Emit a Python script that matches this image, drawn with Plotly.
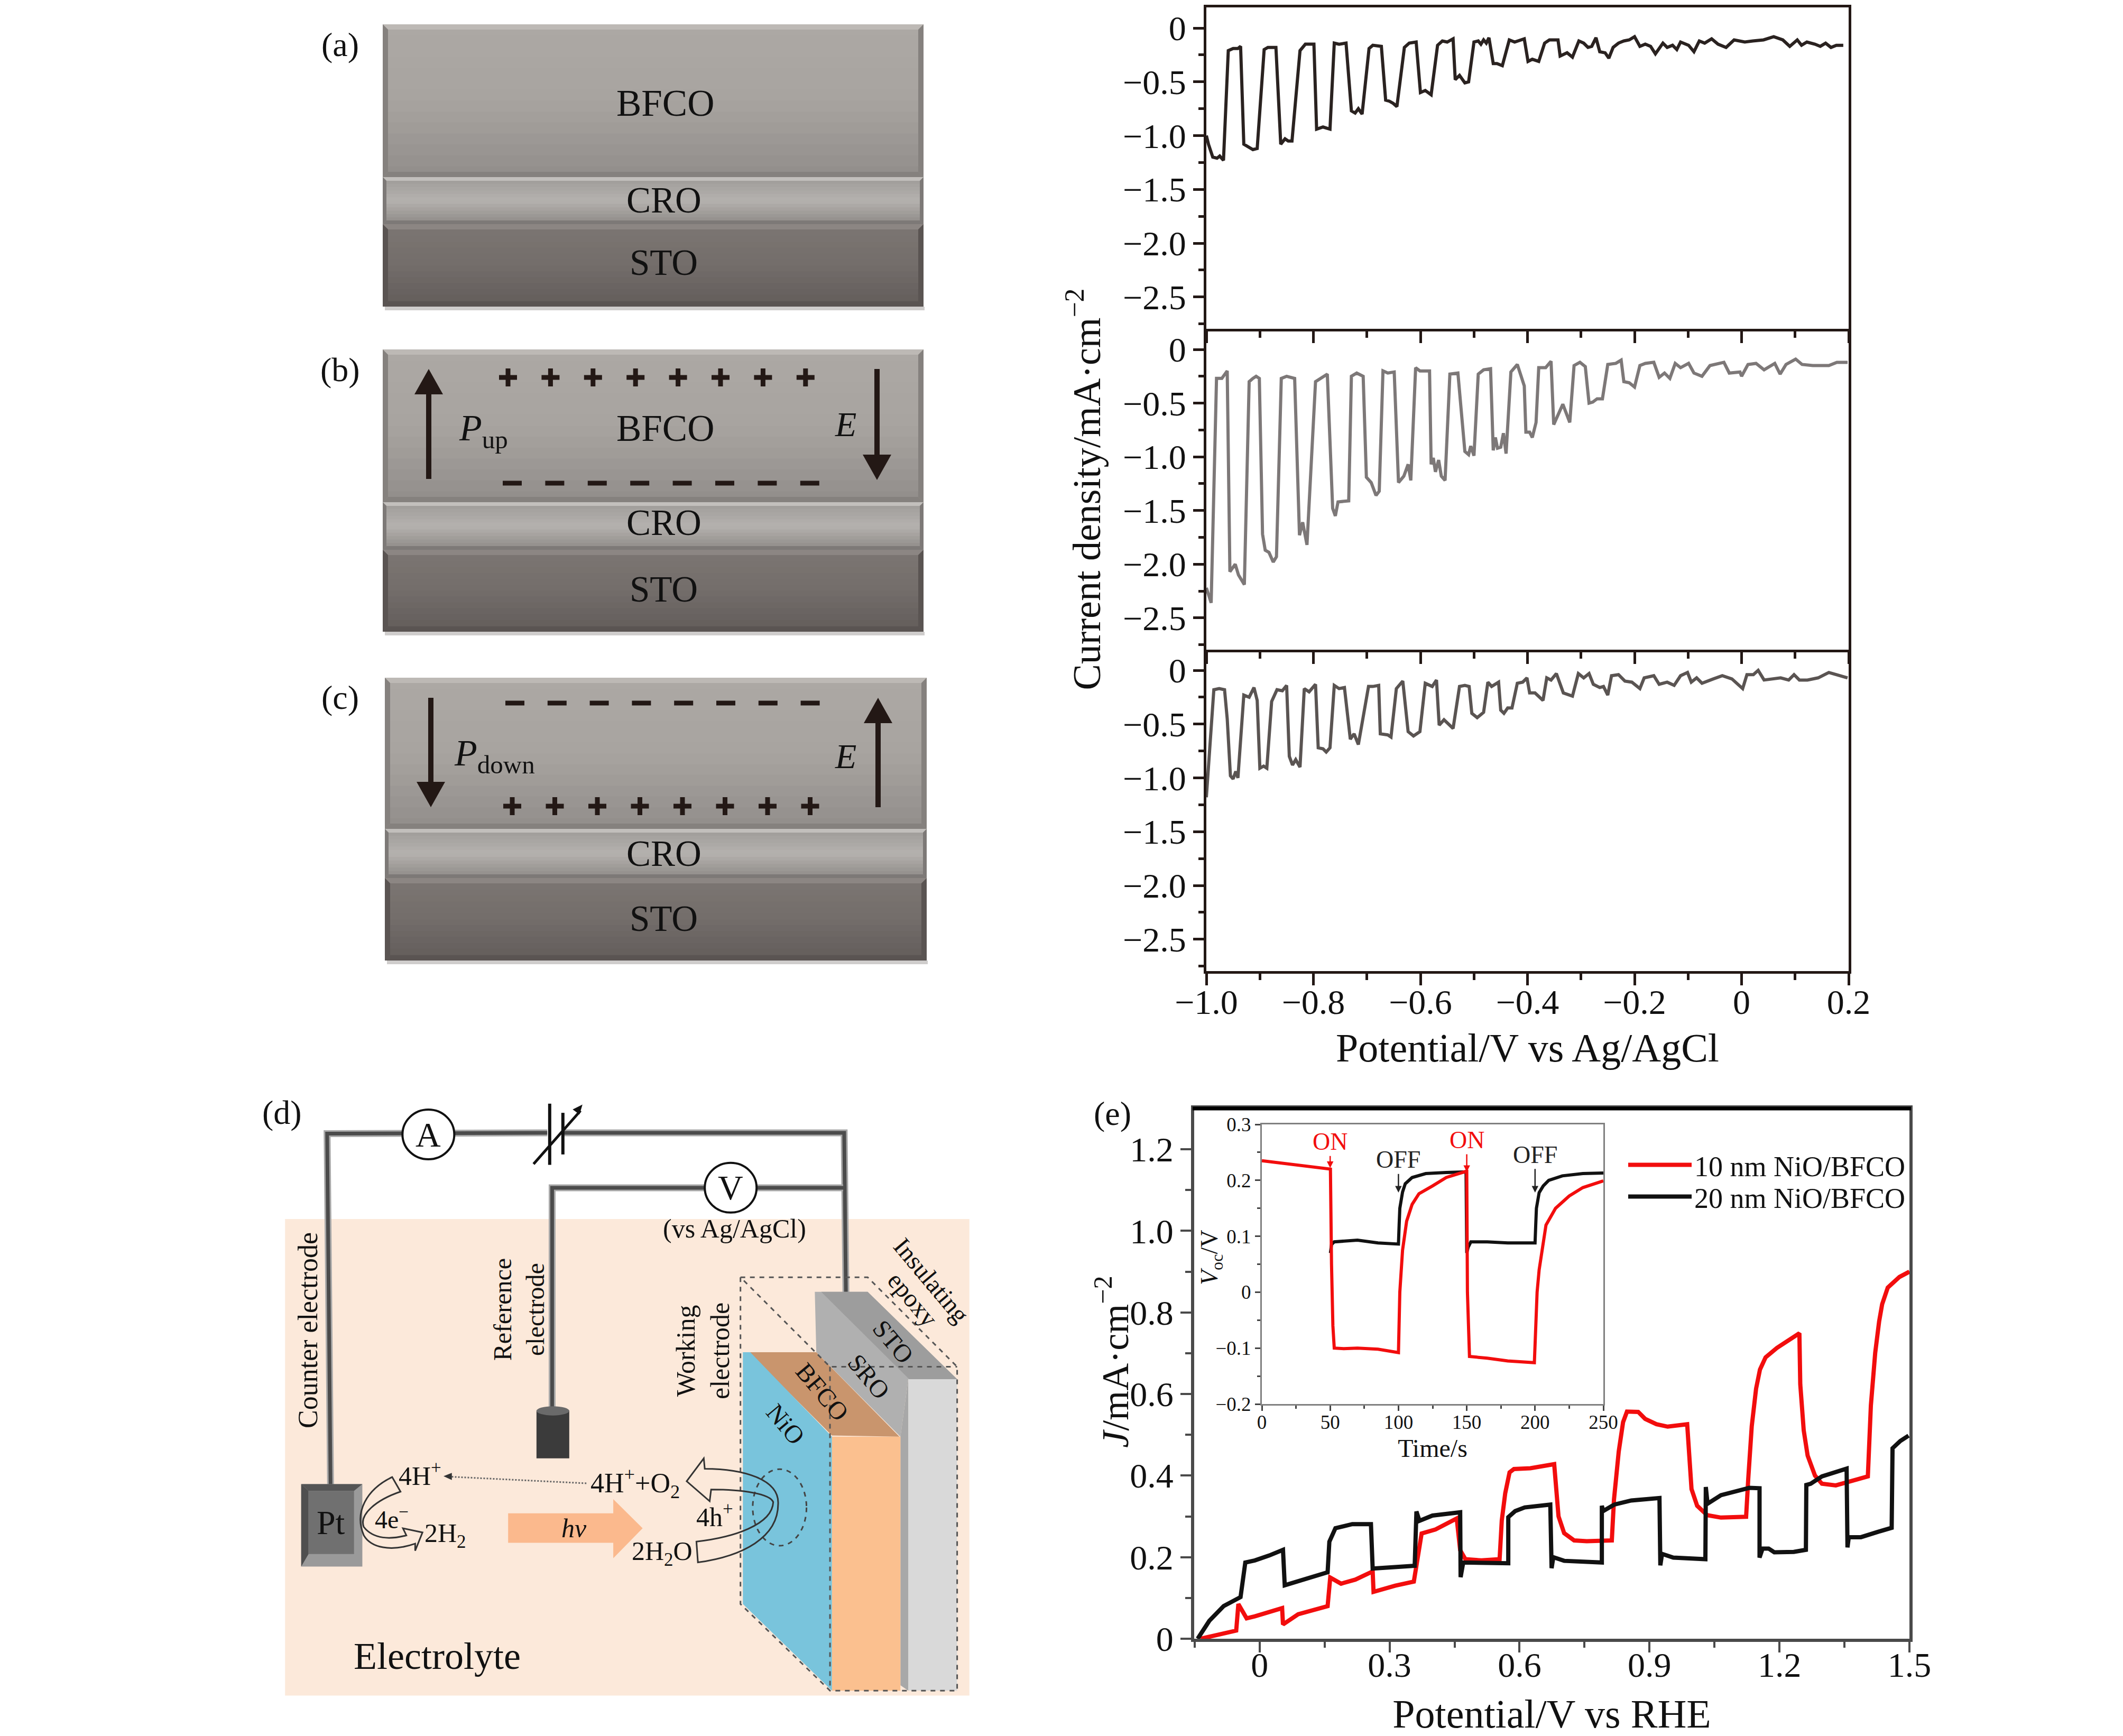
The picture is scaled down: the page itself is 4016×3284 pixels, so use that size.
import plotly.graph_objects as go

W, H = 4016, 3284
K = W / 1567.0

# ---------- data ----------
p1_v = [-1.000,-.996,-.988,-.980,-.975,-.968,-.959,-.950,-.941,-.936,-.930,-.922,-.913,-.905,-.892,-.885,-.870,-.861,-.853,-.847,-.840,-.825,-.815,-.799,-.794,-.782,-.769,-.761,-.752,-.739,-.729,-.722,-.716,-.709,-.696,-.689,-.673,-.665,-.658,-.651,-.644,-.630,-.621,-.608,-.600,-.591,-.580,-.568,-.559,-.550,-.539,-.535,-.527,-.517,-.510,-.500,-.492,-.487,-.482,-.477,-.472,-.464,-.457,-.447,-.434,-.424,-.406,-.399,-.391,-.379,-.368,-.359,-.343,-.339,-.326,-.316,-.304,-.295,-.287,-.280,-.272,-.265,-.255,-.248,-.240,-.230,-.220,-.210,-.200,-.190,-.180,-.170,-.161,-.147,-.139,-.129,-.121,-.114,-.099,-.089,-.079,-.069,-.056,-.044,-.029,-.014,.006,.021,.041,.060,.077,.090,.104,.112,.122,.137,.147,.157,.167,.177,.190]
p1_j = [-1.00,-1.08,-1.20,-1.21,-1.19,-1.23,-.21,-.19,-.19,-.17,-1.08,-1.10,-1.13,-1.12,-.20,-.18,-.18,-1.08,-1.03,-1.05,-1.05,-.21,-.15,-.15,-.94,-.92,-.94,-.14,-.15,-.14,-.77,-.79,-.75,-.80,-.19,-.16,-.17,-.67,-.68,-.70,-.73,-.18,-.14,-.13,-.60,-.58,-.62,-.16,-.12,-.13,-.10,-.48,-.44,-.51,-.50,-.13,-.12,-.15,-.11,-.14,-.09,-.33,-.33,-.35,-.11,-.13,-.10,-.31,-.29,-.31,-.14,-.11,-.11,-.26,-.23,-.27,-.12,-.14,-.18,-.17,-.09,-.22,-.23,-.28,-.18,-.14,-.12,-.11,-.08,-.17,-.15,-.17,-.24,-.14,-.18,-.16,-.20,-.13,-.16,-.22,-.12,-.14,-.10,-.15,-.18,-.11,-.13,-.12,-.11,-.08,-.11,-.17,-.11,-.16,-.13,-.15,-.17,-.14,-.18,-.16,-.16]

p2_v = [-1.000,-.991,-.981,-.971,-.961,-.956,-.946,-.940,-.929,-.920,-.913,-.907,-.901,-.895,-.890,-.883,-.875,-.869,-.860,-.850,-.835,-.826,-.820,-.812,-.796,-.787,-.774,-.764,-.759,-.754,-.734,-.729,-.719,-.707,-.701,-.692,-.683,-.677,-.670,-.661,-.649,-.641,-.631,-.623,-.618,-.609,-.601,-.583,-.580,-.576,-.572,-.566,-.561,-.554,-.545,-.530,-.520,-.517,-.510,-.506,-.500,-.492,-.482,-.469,-.464,-.460,-.456,-.450,-.445,-.440,-.431,-.419,-.406,-.403,-.396,-.391,-.384,-.379,-.366,-.356,-.351,-.334,-.321,-.313,-.302,-.292,-.285,-.278,-.270,-.260,-.250,-.235,-.225,-.220,-.210,-.200,-.190,-.180,-.164,-.154,-.144,-.134,-.124,-.114,-.099,-.089,-.074,-.059,-.033,-.023,-.003,0,.012,.027,.042,.062,.072,.083,.101,.113,.133,.163,.178,.198]
p2_j = [-2.22,-2.36,-.27,-.27,-.20,-2.07,-2.00,-2.10,-2.19,-.30,-.27,-.25,-.27,-1.72,-1.87,-1.89,-1.98,-1.93,-.27,-.25,-.27,-1.73,-1.61,-1.82,-.30,-.27,-.23,-1.48,-1.55,-1.42,-1.41,-.25,-.22,-.25,-1.19,-1.24,-1.36,-1.32,-.20,-.22,-.21,-1.24,-1.18,-1.07,-1.22,-.17,-.20,-.20,-1.07,-1.01,-1.14,-1.03,-1.18,-1.22,-.23,-.22,-.75,-.95,-.98,-.90,-.99,-.23,-.19,-.18,-.94,-.82,-.92,-.91,-.78,-.97,-.21,-.14,-.34,-.77,-.77,-.82,-.68,-.17,-.17,-.11,-.70,-.51,-.68,-.15,-.12,-.16,-.50,-.49,-.46,-.46,-.14,-.13,-.10,-.30,-.31,-.35,-.15,-.13,-.12,-.26,-.22,-.27,-.13,-.17,-.13,-.22,-.25,-.15,-.12,-.22,-.21,-.25,-.14,-.13,-.19,-.13,-.23,-.14,-.09,-.14,-.15,-.15,-.12,-.12]

p3_v = [-1.000,-.993,-.986,-.976,-.966,-.961,-.955,-.950,-.945,-.941,-.930,-.920,-.911,-.905,-.900,-.893,-.887,-.878,-.868,-.858,-.850,-.845,-.839,-.833,-.825,-.817,-.808,-.796,-.791,-.782,-.776,-.769,-.761,-.752,-.742,-.731,-.724,-.716,-.697,-.689,-.678,-.675,-.661,-.655,-.645,-.633,-.623,-.613,-.601,-.591,-.578,-.570,-.565,-.556,-.547,-.539,-.527,-.517,-.509,-.504,-.494,-.482,-.474,-.467,-.454,-.450,-.444,-.437,-.429,-.419,-.409,-.401,-.396,-.386,-.371,-.364,-.356,-.346,-.333,-.316,-.305,-.295,-.285,-.277,-.265,-.258,-.250,-.243,-.230,-.218,-.205,-.190,-.182,-.164,-.154,-.139,-.126,-.114,-.101,-.094,-.084,-.074,-.053,-.036,-.018,.002,.010,.022,.031,.042,.073,.088,.098,.108,.123,.143,.163,.183,.198]
p3_j = [-1.18,-.72,-.18,-.17,-.18,-.45,-.98,-1.01,-.94,-1.00,-.23,-.25,-.16,-.28,-.91,-.89,-.91,-.29,-.18,-.19,-.14,-.80,-.88,-.83,-.90,-.17,-.20,-.13,-.72,-.73,-.76,-.72,-.14,-.17,-.16,-.64,-.59,-.69,-.15,-.15,-.14,-.59,-.60,-.62,-.17,-.10,-.57,-.61,-.57,-.12,-.15,-.09,-.51,-.46,-.50,-.54,-.15,-.14,-.15,-.40,-.44,-.39,-.11,-.15,-.11,-.37,-.40,-.35,-.35,-.12,-.11,-.07,-.21,-.21,-.28,-.07,-.09,-.03,-.21,-.24,-.03,-.07,-.03,-.13,-.16,-.15,-.23,-.05,-.04,-.10,-.11,-.17,-.07,-.05,-.13,-.11,-.14,-.05,-.02,-.11,-.07,-.12,-.08,-.05,-.08,-.17,-.04,-.04,0,-.09,-.07,-.09,-.04,-.09,-.09,-.07,-.02,-.05,-.07]

e_red_v = [-.136,-.097,-.054,-.049,-.030,-.011,.022,.052,.054,.089,.157,.163,.188,.221,.261,.263,.313,.356,.374,.406,.455,.463,.475,.512,.554,.559,.567,.577,.587,.625,.680,.684,.690,.703,.726,.755,.813,.818,.829,.839,.848,.874,.890,.916,.942,.987,.991,.997,1.010,1.033,1.065,1.123,1.128,1.136,1.146,1.155,1.168,1.194,1.246,1.248,1.256,1.265,1.282,1.298,1.330,1.362,1.404,1.411,1.421,1.430,1.437,1.450,1.477,1.500]
e_red_j = [0,.01,.02,.085,.05,.055,.065,.075,.035,.06,.08,.15,.135,.145,.165,.115,.13,.14,.258,.268,.295,.217,.195,.192,.195,.29,.357,.408,.416,.418,.428,.367,.30,.259,.241,.239,.241,.341,.459,.531,.557,.556,.539,.526,.52,.526,.444,.367,.326,.303,.297,.299,.393,.521,.613,.66,.69,.713,.749,.624,.511,.449,.40,.38,.376,.385,.398,.572,.701,.7775,.82,.861,.887,.90]
e_blk_v = [-.143,-.116,-.083,-.044,-.033,-.011,.022,.054,.058,.089,.157,.161,.175,.214,.257,.261,.313,.358,.362,.369,.399,.463,.464,.470,.574,.574,.590,.612,.671,.674,.678,.703,.790,.790,.793,.819,.858,.923,.925,.929,.955,1.029,1.030,1.034,1.065,1.130,1.154,1.154,1.161,1.175,1.188,1.233,1.261,1.262,1.272,1.298,1.355,1.357,1.360,1.388,1.427,1.459,1.461,1.479,1.498]
e_blk_j = [0,.044,.08,.102,.187,.192,.204,.218,.131,.141,.163,.238,.271,.281,.281,.172,.175,.179,.312,.289,.302,.31,.151,.187,.185,.298,.313,.322,.329,.173,.20,.191,.187,.326,.313,.329,.339,.345,.18,.208,.199,.195,.372,.331,.352,.37,.369,.199,.221,.221,.212,.213,.218,.377,.38,.398,.417,.224,.249,.249,.262,.272,.467,.485,.498]

in_red_t = [0,25,50,50.2,51,52,53,60,70,85,100,100.5,101,103,106,110,115,125,135,149.5,150,150.5,152,165,180,199.5,200.5,201.5,203,205,208,215,225,235,250]
in_red_v = [.235,.228,.221,.22,.05,-.06,-.10,-.101,-.10,-.102,-.108,-.05,0,.075,.127,.157,.176,.19,.205,.216,.216,0,-.115,-.118,-.123,-.126,-.05,0,.04,.07,.12,.15,.172,.187,.199]
in_blk_t = [50.2,51,53,70,85,100,100.5,101,103,105,110,120,135,149.5,150,151,153,165,180,200,200.5,201,203,206,210,220,235,250]
in_blk_v = [.07,.085,.09,.093,.088,.086,.12,.15,.179,.194,.205,.212,.214,.215,.07,.08,.09,.09,.088,.088,.12,.15,.178,.19,.20,.208,.212,.213]

y_vals = [0,-.5,-1,-1.5,-2,-2.5]
y_text = ["0","−0.5","−1.0","−1.5","−2.0","−2.5"]
y_minor = [-.25,-.75,-1.25,-1.75,-2.25,-2.75]
x_vals = [-1,-.8,-.6,-.4,-.2,0,.2]
x_text = ["−1.0","−0.8","−0.6","−0.4","−0.2","0","0.2"]
x_minor = [-.9,-.7,-.5,-.3,-.1,.1]
e_x_vals = [0,.3,.6,.9,1.2,1.5]
e_x_text = ["0","0.3","0.6","0.9","1.2","1.5"]
e_x_minor = [-.15,.15,.45,.75,1.05,1.35]
e_y_vals = [0,.2,.4,.6,.8,1.0,1.2]
e_y_text = ["0","0.2","0.4","0.6","0.8","1.0","1.2"]
e_y_minor = [.1,.3,.5,.7,.9,1.1]
in_x_vals = [0,50,100,150,200,250]
in_x_minor = [25,75,125,175,225]
in_y_vals = [-.2,-.1,0,.1,.2,.3]
in_y_text = ["−0.2","−0.1","0","0.1","0.2","0.3"]
in_y_minor = [-.15,-.05,.05,.15,.25]

FONT = "Liberation Serif"
INK = "#231815"

def X(v): return v / W
def Y(v): return 1 - v / H
def ptx(x): return x * K
def pty(y): return y * K

shapes, anns = [], []

def rect(x0, y0, x1, y1, fill, line=None, lw=0):
    shapes.append(dict(type="rect", xref="paper", yref="paper", x0=X(x0), x1=X(x1), y0=Y(y0), y1=Y(y1),
                       fillcolor=fill, line=dict(color=line or fill, width=lw)))

def poly(pts, fill=None, line=None, lw=0, dash=None, close=True):
    d = "M" + " L".join(f"{X(a):.5f},{Y(b):.5f}" for a, b in pts) + (" Z" if close else "")
    ln = dict(color=line or "rgba(0,0,0,0)", width=lw)
    if dash: ln["dash"] = dash
    shapes.append(dict(type="path", xref="paper", yref="paper", path=d, fillcolor=fill or "rgba(0,0,0,0)", line=ln))

def text(x, y, s, size=44, color="#111111", angle=0):
    anns.append(dict(xref="paper", yref="paper", x=X(x), y=Y(y), text=s, showarrow=False, xanchor="center",
                     yanchor="middle", textangle=angle, font=dict(family=FONT, size=size, color=color)))

def mix(stops, t):
    n = len(stops) - 1
    i = min(int(t * n), n - 1)
    f = t * n - i
    a, b = stops[i], stops[i + 1]
    ca = [int(a[j:j + 2], 16) for j in (1, 3, 5)]
    cb = [int(b[j:j + 2], 16) for j in (1, 3, 5)]
    return "#%02x%02x%02x" % tuple(round(p + (q - p) * f) for p, q in zip(ca, cb))

def layer(x0, y0, x1, y1, stops, top, bot, n=14, bev=10):
    for i in range(n):
        a = y0 + (y1 - y0) * i / n
        b = y0 + (y1 - y0) * (i + 1) / n + 1
        rect(x0, a, x1, min(b, y1), mix(stops, (i + .5) / n))
    poly([(x0, y0), (x1, y0), (x1 - bev, y0 + bev), (x0 + bev, y0 + bev)], fill=top)
    poly([(x0, y1), (x1, y1), (x1 - bev, y1 - bev), (x0 + bev, y1 - bev)], fill=bot)
    poly([(x0, y0), (x0 + bev, y0 + bev), (x0 + bev, y1 - bev), (x0, y1)], fill=bot)
    poly([(x1, y0), (x1 - bev, y0 + bev), (x1 - bev, y1 - bev), (x1, y1)], fill=bot)

def stack(x0, x1, y0, y1, y2, y3):
    rect(x0 + 4, y3, x1 + 2, y3 + 7, "#cfcdcc")
    layer(x0, y0, x1, y1, ["#aca8a4", "#a8a4a0", "#918d8a"], "#bdb9b5", "#85817e")
    layer(x0, y1, x1, y2, ["#9d9a97", "#b5b2af", "#8d8986"], "#c2bfbc", "#7d7977", bev=7)
    layer(x0, y2, x1, y3, ["#7c7673", "#736d6a", "#625c5a"], "#8c8683", "#5a5452")

def arrow(x, y0, y1, head=27, hl=48, sw=5):
    s = 1 if y1 > y0 else -1
    poly([(x - sw, y0), (x + sw, y0), (x + sw, y1 - s * hl), (x + head, y1 - s * hl), (x, y1),
          (x - head, y1 - s * hl), (x - sw, y1 - s * hl)], fill="#231815")

def plus(x, y, a=17, w=4.5):
    rect(x - a, y - w, x + a, y + w, "#231815")
    rect(x - w, y - a, x + w, y + a, "#231815")

def minus(x, y, a=18, w=4.5):
    rect(x - a, y - w, x + a, y + w, "#231815")

# ---------- panels a, b, c ----------
stack(724, 1747, 46, 335, 424, 580)
text(ptx(491), pty(76), "BFCO", 71); text(ptx(490), pty(148), "CRO", 69); text(ptx(490), pty(194), "STO", 69)
text(ptx(251), pty(33), "(a)", 64)

stack(724, 1747, 661, 950, 1040, 1195)
text(ptx(491), pty(316), "BFCO", 71); text(ptx(490), pty(386), "CRO", 69); text(ptx(490), pty(435), "STO", 69)
text(ptx(251), pty(273), "(b)", 64)
for i in range(8):
    plus(961 + i * 80.4, 714)
    minus(969 + i * 80.4, 914)
arrow(811, 906, 698)
arrow(1659, 698, 908)
text(ptx(357), pty(318), "<i>P</i><sub>up</sub>", 70)
text(ptx(624), pty(313), "<i>E</i>", 66)

stack(728, 1753, 1282, 1568, 1661, 1817)
text(ptx(490), pty(630), "CRO", 69); text(ptx(490), pty(678), "STO", 69)
text(ptx(251), pty(515), "(c)", 64)
for i in range(8):
    minus(974 + i * 79.8, 1330)
    plus(969 + i * 80.5, 1525)
arrow(815, 1320, 1527)
arrow(1661, 1527, 1320)
text(ptx(365), pty(558), "<i>P</i><sub>down</sub>", 70)
text(ptx(624), pty(558), "<i>E</i>", 66)

# ---------- panel d ----------
def dx(x): return 480 + x * 1450 / 1567
def dy(y): return 2050 + y * 1234 / 1567
def D(pts): return [(dx(a), dy(b)) for a, b in pts]

rect(dx(64), dy(325), dx(1463), dy(1470), "#fce9da")

def wire(pts):
    poly(D(pts), line="#a8a8a8", lw=13, close=False)
    poly(D(pts), line="#4b4b4b", lw=7, close=False)

wire([(157, 965), (150, 120), (600, 118)])
wire([(632, 118), (1207, 118), (1212, 655)])
wire([(610, 780), (610, 250), (1205, 250)])

for cx, cy, s in [(357, 122, "A"), (975, 250, "V")]:
    shapes.append(dict(type="circle", xref="paper", yref="paper", x0=X(dx(cx) - 49), x1=X(dx(cx) + 49),
                       y0=Y(dy(cy) - 47), y1=Y(dy(cy) + 47), fillcolor="white", line=dict(color="#111111", width=4)))
    text(dx(cx), dy(cy), s, 66)

poly(D([(605, 48), (605, 195)]), line="#111111", lw=6, close=False)
poly(D([(632, 70), (632, 170)]), line="#111111", lw=6, close=False)
poly(D([(572, 193), (668, 65)]), line="#111111", lw=5, close=False)
poly(D([(672, 50), (652, 62), (666, 74)]), fill="#111111")

rect(dx(97), dy(962), dx(222), dy(1160), "#9a9a9a")
poly(D([(97, 962), (112, 978), (112, 1130), (97, 1160)]), fill="#4f4f4f")
poly(D([(97, 962), (222, 962), (205, 978), (112, 978)]), fill="#555555")
rect(dx(112), dy(978), dx(205), dy(1130), "#707070")
text(dx(158), dy(1055), "Pt", 64)
rect(dx(578), dy(785), dx(645), dy(900), "#3b3b3b")
shapes.append(dict(type="circle", xref="paper", yref="paper", x0=X(dx(578)), x1=X(dx(645)), y0=Y(dy(775)), y1=Y(dy(797)),
                   fillcolor="#6a6a6a", line=dict(width=0)))

poly(D([(1147, 500), (1255, 500), (1438, 710), (1338, 710), (1322, 848), (1150, 645)]), fill="#b0b0b0")
poly(D([(1160, 500), (1255, 500), (1438, 710), (1340, 710)]), fill="#9d9d9d")
poly(D([(1338, 710), (1438, 710), (1438, 1458), (1338, 1458)]), fill="#d9d9d9")
poly(D([(1322, 848), (1338, 710), (1338, 1458), (1322, 1445)]), fill="#a8a8a8")
poly(D([(1182, 848), (1322, 848), (1322, 1458), (1182, 1458)]), fill="#fbc08f")
poly(D([(1012, 645), (1150, 645), (1320, 848), (1182, 845)]), fill="#c9956d")
poly(D([(1000, 645), (1015, 645), (1182, 848), (1182, 1458), (1000, 1250)]), fill="#79c4dc")
box = [(995, 465), (1255, 465), (1438, 680), (1438, 1458), (1178, 1458), (995, 1250), (995, 465), (1178, 680), (1438, 680)]
poly(D(box), line="#555555", lw=3, dash="dash", close=False)
poly(D([(1178, 680), (1178, 1458)]), line="#555555", lw=3, dash="dash", close=False)
shapes.append(dict(type="circle", xref="paper", yref="paper", x0=X(dx(1020)), x1=X(dx(1130)), y0=Y(dy(926)), y1=Y(dy(1110)),
                   line=dict(color="#444444", width=3, dash="dash")))

poly(D([(520, 1032), (735, 1032), (735, 998), (795, 1068), (735, 1140), (735, 1103), (520, 1103)]), fill="#fbb98d")

def cpath(cmd):
    out = []
    for tok in cmd:
        if isinstance(tok, str):
            out.append(tok)
        else:
            out.append(f"{X(dx(tok[0])):.5f},{Y(dy(tok[1])):.5f}")
    return " ".join(out)

left_arrow = ["M", (283, 945), "C", (230, 975), (205, 1030), (225, 1085), "C", (240, 1115), (280, 1125), (330, 1105),
              "L", (330, 1122), "L", (345, 1078), "L", (305, 1068), "L", (312, 1085), "C", (280, 1095), (245, 1095), (225, 1065),
              "C", (215, 1035), (250, 1000), (300, 980), "Z"]
right_arrow = ["M", (905, 1100), "C", (980, 1090), (1060, 1060), (1062, 1005), "C", (1055, 985), (1000, 975), (935, 975),
               "L", (932, 1003), "L", (885, 955), "L", (920, 900), "L", (922, 925), "C", (1000, 925), (1075, 950), (1072, 1010),
               "C", (1072, 1090), (1000, 1135), (908, 1150), "Z"]
for p in (left_arrow, right_arrow):
    shapes.append(dict(type="path", xref="paper", yref="paper", path=cpath(p), fillcolor="rgba(0,0,0,0)",
                       line=dict(color="#333333", width=3)))
poly(D([(680, 960), (400, 944)]), line="#666666", lw=3, dash="dot", close=False)
poly(D([(388, 943), (405, 935), (405, 952)]), fill="#333333")

text(ptx(208), pty(821), "(d)", 64)
text(dx(340), dy(938), "4H<sup>+</sup>", 50)
text(dx(282), dy(1043), "4e<sup>−</sup>", 48)
text(dx(392), dy(1085), "2H<sub>2</sub>", 50)
text(dx(655), dy(1068), "<i>hν</i>", 50)
text(dx(780), dy(960), "4H<sup>+</sup>+O<sub>2</sub>", 52)
text(dx(942), dy(1037), "4h<sup>+</sup>", 50)
text(dx(835), dy(1128), "2H<sub>2</sub>O", 50)
text(dx(375), dy(1375), "Electrolyte", 72)
text(dx(983), dy(348), "(vs Ag/AgCl)", 50)
text(dx(110), dy(592), "Counter electrode", 52, angle=-90)
text(dx(542), dy(542), "Reference<br>electrode", 48, angle=-90)
text(dx(918), dy(642), "Working<br>electrode", 50, angle=-90)
text(dx(1385), dy(472), "Insulating", 48, angle=50)
text(dx(1347), dy(518), "epoxy", 48, angle=50)
text(dx(1308), dy(620), "STO", 48, angle=50)
text(dx(1257), dy(703), "SRO", 48, angle=50)
text(dx(1162), dy(740), "BFCO", 48, angle=50)
text(dx(1088), dy(818), "NiO", 48, angle=50)

text(ptx(821), pty(822), "(e)", 64)

# ---------- figure ----------
fig = go.Figure()
COL = ["#2a2220", "#7d7878", "#5a5452"]
for i, (v, j) in enumerate([(p1_v, p1_j), (p2_v, p2_j), (p3_v, p3_j)]):
    fig.add_trace(go.Scatter(x=v, y=j, mode="lines", line=dict(color=COL[i], width=6), showlegend=False,
                             xaxis=f"x{i+1}", yaxis=f"y{i+1}"))
RED = "#f20d0d"
fig.add_trace(go.Scatter(x=e_red_v, y=e_red_j, mode="lines", name="10 nm NiO/BFCO", line=dict(color=RED, width=8),
                         xaxis="x4", yaxis="y4", legend="legend"))
fig.add_trace(go.Scatter(x=e_blk_v, y=e_blk_j, mode="lines", name="20 nm NiO/BFCO", line=dict(color="#111111", width=8),
                         xaxis="x4", yaxis="y4", legend="legend2"))
fig.add_trace(go.Scatter(x=in_blk_t, y=in_blk_v, mode="lines", line=dict(color="#111111", width=6), showlegend=False,
                         xaxis="x5", yaxis="y5"))
fig.add_trace(go.Scatter(x=in_red_t, y=in_red_v, mode="lines", line=dict(color=RED, width=6), showlegend=False,
                         xaxis="x5", yaxis="y5"))

L, R = 2282, 3497
TB = [(14, 622), (622, 1229), (1229, 1837)]
layout = dict(width=W, height=H, margin=dict(l=0, r=0, t=0, b=0, pad=0), autosize=False, paper_bgcolor="white", plot_bgcolor="rgba(0,0,0,0)",
              font=dict(family=FONT, color="#111111", size=64), shapes=shapes, annotations=anns, template="none")

for i, (t, b) in enumerate(TB):
    n = i + 1
    xa = dict(domain=[X(L), X(R)], range=[-1, .2], anchor=f"y{n}", automargin=False, showgrid=False, zeroline=False, showline=True, mirror=(i == 0),
              linecolor=INK, linewidth=5, ticks="outside", ticklen=22, tickwidth=5, tickcolor=INK,
              tickmode="array", tickvals=x_vals, showticklabels=(i == 2),
              tickfont=dict(size=66), minor=dict(tickmode="array", tickvals=x_minor, ticks="outside", ticklen=12, tickwidth=5, tickcolor=INK, showgrid=False))
    if i == 2:
        xa["ticktext"] = x_text
        xa["ticklabelstandoff"] = -25
        xa["title"] = dict(text="Potential/V vs Ag/AgCl", font=dict(size=76), standoff=25)
    ya = dict(domain=[Y(b), Y(t)], range=[-2.796, .192], anchor=f"x{n}", automargin=False, showgrid=False, zeroline=False, showline=True, mirror=True,
              linecolor=INK, linewidth=5, ticks="outside", ticklen=20, tickwidth=5, tickcolor=INK,
              tickmode="array", tickvals=y_vals, ticktext=y_text, tickfont=dict(size=66),
              minor=dict(tickmode="array", tickvals=y_minor, ticks="outside", ticklen=10, tickwidth=5, tickcolor=INK, showgrid=False))
    if i == 1:
        ya["title"] = dict(text="Current density/mA·cm<sup>−2</sup>", font=dict(size=74), standoff=20)
    layout[f"xaxis{n}"] = xa
    layout[f"yaxis{n}"] = ya

EC = "#4a4a4a"
layout["xaxis4"] = dict(domain=[X(2259), X(3612)], range=[-.151, 1.5], anchor="y4", automargin=False, showgrid=False, zeroline=False, showline=True, mirror=True,
                        linecolor=EC, linewidth=6, ticks="outside", ticklen=20, tickwidth=4, tickcolor=EC,
                        tickmode="array", tickvals=e_x_vals, ticktext=e_x_text, tickfont=dict(size=66), ticklabelstandoff=-33,
                        minor=dict(tickmode="array", tickvals=e_x_minor, ticks="outside", ticklen=11, tickwidth=4, tickcolor=EC, showgrid=False),
                        title=dict(text="Potential/V vs RHE", font=dict(size=76), standoff=55))
layout["yaxis4"] = dict(domain=[Y(3100), Y(2097)], range=[0, 1.30], anchor="x4", automargin=False, showgrid=False, zeroline=False, showline=True, mirror=True,
                        linecolor=EC, linewidth=6, ticks="outside", ticklen=20, tickwidth=4, tickcolor=EC,
                        tickmode="array", tickvals=e_y_vals, ticktext=e_y_text, tickfont=dict(size=66),
                        minor=dict(tickmode="array", tickvals=e_y_minor, ticks="outside", ticklen=11, tickwidth=4, tickcolor=EC, showgrid=False))
text(ptx(821), pty(1005), "<i>J</i>/mA·cm<sup>−2</sup>", 72, angle=-90)
shapes.append(dict(type="line", xref="paper", yref="paper", x0=X(2256), x1=X(3615), y0=Y(2097), y1=Y(2097), line=dict(color="#000000", width=7)))
GR = "#808080"
layout["xaxis5"] = dict(domain=[X(2387), X(3033)], range=[0, 250], anchor="y5", automargin=False, showgrid=False, zeroline=False, showline=True, mirror=True,
                        linecolor=GR, linewidth=3, ticks="outside", ticklen=10, tickwidth=3, tickcolor="#444444",
                        tickmode="array", tickvals=in_x_vals, ticktext=[str(a) for a in in_x_vals], tickfont=dict(size=37), ticklabelstandoff=-10,
                        minor=dict(tickmode="array", tickvals=in_x_minor, ticks="outside", ticklen=6, tickwidth=3, tickcolor="#444444", showgrid=False),
                        title=dict(text="Time/s", font=dict(size=48), standoff=12))
layout["yaxis5"] = dict(domain=[Y(2656), Y(2127)], range=[-.2, .3], anchor="x5", automargin=False, showgrid=False, zeroline=False, showline=True, mirror=True,
                        linecolor=GR, linewidth=3, ticks="outside", ticklen=10, tickwidth=3, tickcolor="#444444",
                        tickmode="array", tickvals=in_y_vals, ticktext=in_y_text, tickfont=dict(size=37),
                        minor=dict(tickmode="array", tickvals=in_y_minor, ticks="outside", ticklen=6, tickwidth=3, tickcolor="#444444", showgrid=False))
text(2291, 2379, "<i>V</i><sub>oc</sub>/V", 46, angle=-90)
for name, yc in [("legend", 2204), ("legend2", 2264)]:
    layout[name] = dict(x=X(3075), y=Y(yc), xanchor="left", yanchor="middle", bgcolor="rgba(0,0,0,0)", font=dict(size=54),
                        itemwidth=120, tracegroupgap=0, borderwidth=0)

marks = [(50, .222, .269, "ON", RED), (100, .178, .237, "OFF", "#222222"), (150, .215, .272, "ON", RED), (200, .178, .246, "OFF", "#222222")]
for t, head, tail, s, c in marks:
    anns.append(dict(xref="x5", yref="y5", x=t, y=head, axref="x5", ayref="y5", ax=t, ay=tail, text=s, showarrow=True, arrowhead=2,
                     arrowsize=1, arrowwidth=2.5, arrowcolor=c, font=dict(family=FONT, size=46, color=c), standoff=0))

fig.update_layout(**layout)
fig.write_html("out.html", config=dict(displayModeBar=False),
               post_script="document.body.style.margin='0';document.body.style.overflow='hidden';")
